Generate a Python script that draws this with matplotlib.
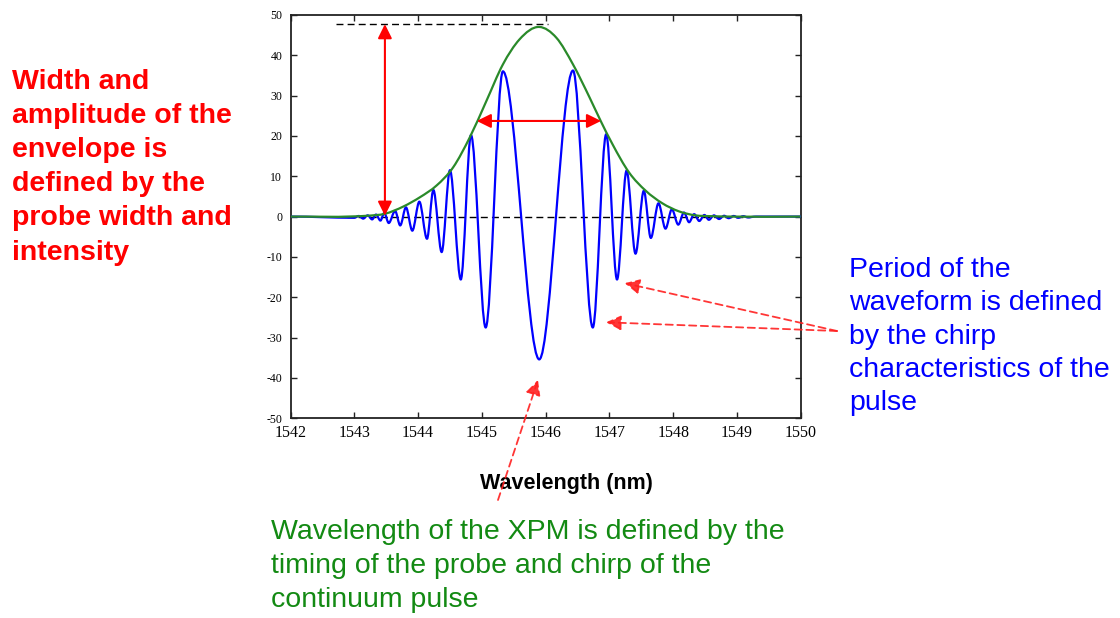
"""
XPM probe signal vs. wavelength, with the Gaussian envelope and the
annotations explaining what sets its width, period and centre.

Output:
    out.png
"""

import matplotlib.pyplot as plt
import numpy as np
from matplotlib.patches import PathPatch
from matplotlib.path import Path


FIG_W, FIG_H = 1120, 618
DPI = 100

# blue trace: turning points of the chirped oscillation (nm, a.u.)
wave_nm = [
    1542.00, 1543.00, 1543.07, 1543.14, 1543.21, 1543.28, 1543.34, 1543.41,
    1543.47, 1543.54, 1543.64, 1543.72, 1543.81, 1543.91, 1544.02, 1544.14,
    1544.24, 1544.37, 1544.50, 1544.67, 1544.83, 1545.06, 1545.33, 1545.90,
    1546.43, 1546.74, 1546.95, 1547.12, 1547.27, 1547.41, 1547.54, 1547.65,
    1547.77, 1547.88, 1547.98, 1548.08, 1548.17, 1548.25, 1548.33, 1548.41,
    1548.49, 1548.56, 1548.64, 1548.72, 1548.80, 1548.87, 1548.95, 1549.02,
    1549.10, 1549.17, 1549.30, 1550.00,
]
wave_val = [
    0.0, -0.3, 0.15, -0.5, 0.3, -0.7, 0.5, -1.0,
    0.9, -1.6, 1.4, -2.2, 2.3, -3.5, 3.7, -5.5,
    6.6, -8.8, 11.5, -15.6, 20.2, -27.5, 36.0, -35.4,
    36.2, -27.5, 20.4, -15.6, 11.4, -9.2, 6.4, -5.3,
    3.3, -3.0, 1.8, -2.0, 1.0, -1.4, 0.6, -1.1,
    0.4, -0.8, 0.3, -0.6, 0.2, -0.4, 0.15, -0.3,
    0.1, -0.2, 0.0, 0.0,
]

# green trace: probe envelope
env_nm = [
    1542.00, 1543.00, 1543.20, 1543.48, 1543.77, 1544.03, 1544.29, 1544.55,
    1544.81, 1545.07, 1545.33, 1545.59, 1545.90, 1546.17, 1546.43, 1546.69,
    1546.87, 1547.05, 1547.31, 1547.57, 1547.83, 1548.09, 1548.35, 1548.60,
    1548.90, 1550.00,
]
env_val = [
    0.0, 0.05, 0.2, 0.7, 2.5, 4.8, 7.7, 12.2,
    19.6, 28.6, 37.7, 43.9, 47.0, 44.3, 37.7, 29.5,
    23.5, 17.9, 10.9, 6.4, 3.3, 1.3, 0.3, 0.1,
    0.0, 0.0,
]

x_ticks = [1542, 1543, 1544, 1545, 1546, 1547, 1548, 1549, 1550]
y_ticks = [-50, -40, -30, -20, -10, 0, 10, 20, 30, 40, 50]

# reference markers
peak_level = 47.7
peak_line_nm = (1542.72, 1546.04)
zero_line_nm = (1542.88, 1549.20)
height_arrow_nm = 1543.48
width_arrow_level = 23.7
width_arrow_nm = (1544.92, 1546.87)

# where the dashed pointers land (nm, a.u.)
period_targets = [(1547.24, -16.5), (1546.95, -26.2)]
xpm_target = (1545.88, -40.5)

red_lines = ["Width and", "amplitude of the", "envelope is",
             "defined by the", "probe width and", "intensity"]
blue_lines = ["Period of the", "waveform is defined", "by the chirp",
              "characteristics of the", "pulse"]
green_lines = ["Wavelength of the XPM is defined by the",
               "timing of the probe and chirp of the",
               "continuum pulse"]


def px(x, y):
    """figure pixel (from top-left) -> figure fraction"""
    return x / FIG_W, 1 - y / FIG_H


def hermite_path(xs, ys, slopes):
    xs = np.asarray(xs, float)
    ys = np.asarray(ys, float)
    verts = [(xs[0], ys[0])]
    codes = [Path.MOVETO]
    for i in range(len(xs) - 1):
        h = xs[i + 1] - xs[i]
        verts += [
            (xs[i] + h / 3, ys[i] + slopes[i] * h / 3),
            (xs[i + 1] - h / 3, ys[i + 1] - slopes[i + 1] * h / 3),
            (xs[i + 1], ys[i + 1]),
        ]
        codes += [Path.CURVE4] * 3
    return Path(verts, codes)


def text_block(fig, lines, x, baselines, color, weight="normal"):
    for line, base in zip(lines, baselines):
        fx, fy = px(x, base)
        fig.text(fx, fy, line, color=color, fontsize=20.5, fontweight=weight,
                 va="baseline", ha="left")


def main():
    plt.rcParams["font.family"] = ["Liberation Sans", "DejaVu Sans"]
    plt.rcParams["axes.unicode_minus"] = False

    fig = plt.figure(figsize=(FIG_W / DPI, FIG_H / DPI), dpi=DPI)
    ax = fig.add_axes([0.2594, 0.3231, 0.4555, 0.6529])

    ax.set_xlim(1542, 1550)
    ax.set_ylim(-50, 50)

    # turning points have zero slope; the envelope uses finite differences
    wave = hermite_path(wave_nm, wave_val, np.zeros(len(wave_nm)))
    ax.add_patch(PathPatch(wave, fill=False, edgecolor="#0000ff", lw=1.6,
                           zorder=3, capstyle="round", joinstyle="round"))
    env_slope = np.gradient(np.asarray(env_val, float), np.asarray(env_nm, float))
    env = hermite_path(env_nm, env_val, env_slope)
    ax.add_patch(PathPatch(env, fill=False, edgecolor="#2a8a2a", lw=1.6, zorder=4))

    ax.plot(zero_line_nm, [0, 0], color="black", lw=1.0, ls=(0, (5, 3)), zorder=2)
    ax.plot(peak_line_nm, [peak_level, peak_level], color="black", lw=1.0,
            ls=(0, (5, 3)), zorder=2)

    solid = dict(arrowstyle="<|-|>,head_length=0.85,head_width=0.42",
                 color="red", lw=1.5, shrinkA=0, shrinkB=0)
    ax.annotate("", xy=(height_arrow_nm, peak_level), xytext=(height_arrow_nm, 0.2),
                arrowprops=solid, zorder=6)
    ax.annotate("", xy=(width_arrow_nm[0], width_arrow_level),
                xytext=(width_arrow_nm[1], width_arrow_level),
                arrowprops=solid, zorder=6)

    dashed = dict(arrowstyle="-|>,head_length=0.9,head_width=0.45",
                  color="#ff2020", lw=1.3, ls=(0, (4, 2.5)),
                  shrinkA=0, shrinkB=0, alpha=0.9)
    for target in period_targets:
        ax.annotate("", xy=target, xycoords="data", xytext=px(837, 331),
                    textcoords="figure fraction", arrowprops=dashed,
                    annotation_clip=False)
    ax.annotate("", xy=xpm_target, xycoords="data", xytext=px(498, 500),
                textcoords="figure fraction", arrowprops=dashed,
                annotation_clip=False)

    ax.set_xticks(x_ticks)
    ax.set_yticks(y_ticks)
    ax.tick_params(direction="in", length=4.5, width=1.0, top=True, right=True,
                   color="#222222")
    ax.tick_params(axis="x", labelsize=11.5, pad=5)
    ax.tick_params(axis="y", labelsize=8.5, pad=6)
    for lab in ax.get_xticklabels() + ax.get_yticklabels():
        lab.set_fontfamily("Liberation Serif")
    for spine in ax.spines.values():
        spine.set_linewidth(1.3)
        spine.set_color("#222222")

    ax.set_xlabel("Wavelength (nm)", fontsize=15.5, fontweight="bold")
    ax.xaxis.set_label_coords(0.54, -0.135)

    text_block(fig, red_lines, 12, [89, 123, 157, 191, 225, 260], "#ff0000", "bold")
    text_block(fig, blue_lines, 849, [277, 310, 343.5, 377, 410.5], "#0000ff")
    text_block(fig, green_lines, 271, [539, 573, 607], "#138a13")

    fig.savefig("out.png", dpi=DPI)
    plt.close(fig)


if __name__ == "__main__":
    main()
